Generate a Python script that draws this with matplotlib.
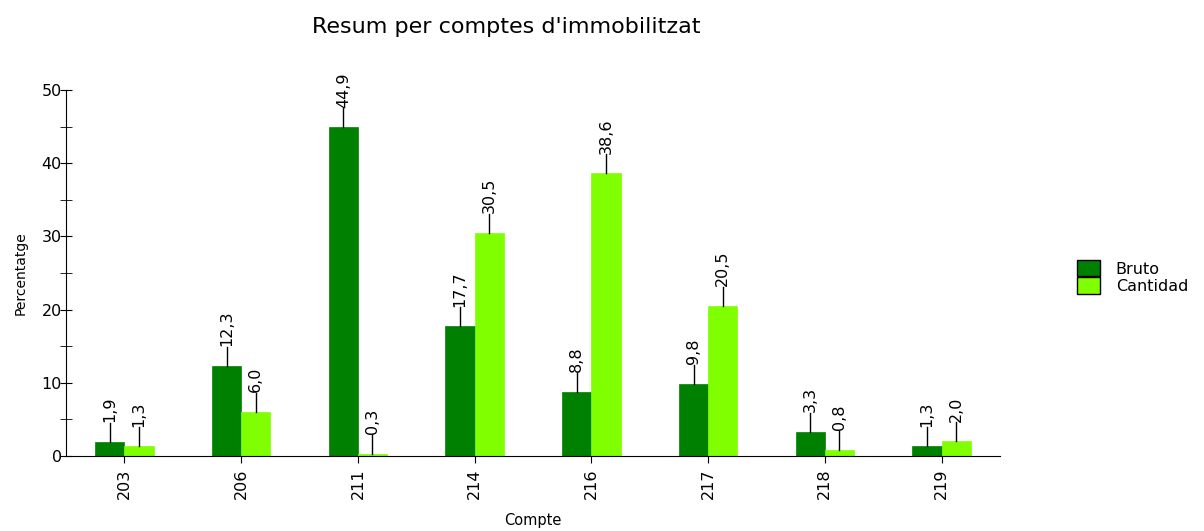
import matplotlib.pyplot as plt
import numpy as np
from matplotlib.patches import Patch

plt.rcParams['font.family'] = ['DejaVu Sans']

comptes = ['203', '206', '211', '214', '216', '217', '218', '219']
bruto = [1.9, 12.3, 44.9, 17.7, 8.8, 9.8, 3.3, 1.3]
cantidad = [1.3, 6.0, 0.3, 30.5, 38.6, 20.5, 0.8, 2.0]

dark = '#008000'
light = '#80ff00'

fig = plt.figure(figsize=(12.04, 5.31), dpi=100)
ax = fig.add_axes([66 / 1204, 75 / 531, 934 / 1204, 366 / 531])

x = np.arange(len(comptes))
w = 0.25
ax.bar(x - w / 2, bruto, w, color=dark, edgecolor=dark, linewidth=0.5)
ax.bar(x + w / 2, cantidad, w, color=light, edgecolor=light, linewidth=0.5)

# leader line + rotated label above each bar
for xs, vals in ((x - w / 2, bruto), (x + w / 2, cantidad)):
    for xi, v in zip(xs, vals):
        ax.plot([xi, xi], [v, v + 2.6], color='black', lw=1, clip_on=False)
        ax.text(xi, v + 2.7, f'{v:.1f}'.replace('.', ','), rotation=90,
                ha='center', va='bottom', fontsize=11.5)

ax.set_xlim(-0.5, len(comptes) - 0.5)
ax.set_ylim(0, 50)
ax.set_xticks(x)
ax.set_xticklabels(comptes, rotation=90, fontsize=11.5)
ax.set_yticks(range(0, 51, 10))
ax.set_yticks(range(5, 50, 10), minor=True)
ax.tick_params(axis='y', direction='inout', length=8, labelsize=11.5, pad=-1)
ax.tick_params(axis='y', which='minor', direction='inout', length=8)
ax.tick_params(axis='x', direction='out', length=5, pad=4)
for s in ('top', 'right'):
    ax.spines[s].set_visible(False)
ax.set_xlabel('Compte', fontsize=10.5, labelpad=10)
ax.set_ylabel('Percentatge', fontsize=10, labelpad=10)

fig.text(506 / 1204, 1 - 27 / 531, "Resum per comptes d'immobilitzat",
         ha='center', va='center', fontsize=16)

handles = [Patch(facecolor=dark, edgecolor='black'),
           Patch(facecolor=light, edgecolor='black')]
fig.legend(handles, ['Bruto', 'Cantidad'], loc='center left',
           bbox_to_anchor=(1063 / 1204, 1 - 277 / 531), frameon=False,
           fontsize=11.5, handlelength=1.4, handleheight=1.2,
           labelspacing=0.05, handletextpad=1.0)

plt.savefig('out.png')
